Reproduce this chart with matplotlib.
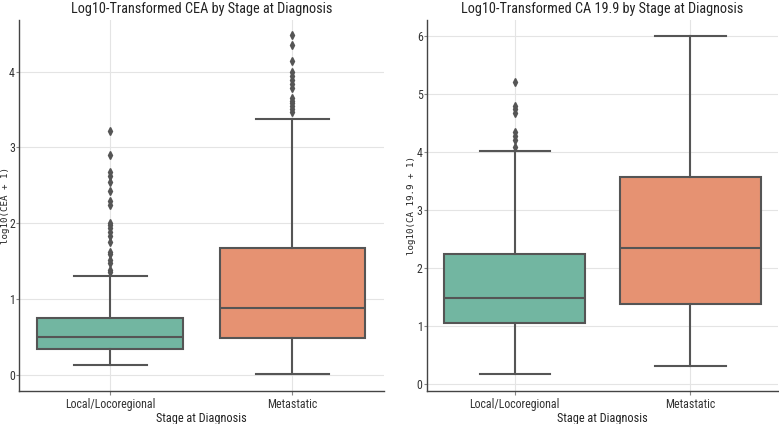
import matplotlib
matplotlib.use("Agg")
import matplotlib.pyplot as plt
from matplotlib import font_manager
from matplotlib.font_manager import FontProperties

# ---- pick a condensed sans font if one is installed ----
def pick_condensed():
    best = None
    best_score = -1
    pref = ["Noto Sans", "Open Sans", "Roboto", "DejaVu Sans", "Liberation Sans", "Lato", "Inter"]
    for f in font_manager.fontManager.ttflist:
        nm = f.name
        st = str(f.stretch)
        is_cond = ("ondensed" in st) or ("ondensed" in nm) or ("Narrow" in nm) \
            or ("ondensed" in f.fname) or ("Narrow" in f.fname)
        if not is_cond:
            continue
        if f.style != "normal":
            continue
        w = f.weight if isinstance(f.weight, int) else 400
        if w not in (400, "normal"):
            continue
        fn = f.fname.lower()
        if "extra" in fn or "ultra" in fn or "semi" in fn or "mono" in fn:
            score = 1
        else:
            score = 3
        for i, p in enumerate(pref):
            if nm.startswith(p):
                score += (len(pref) - i)
                break
        if score > best_score:
            best_score = score
            best = f.fname
    return best

_cf = pick_condensed()

def fp(size):
    if _cf:
        return FontProperties(fname=_cf, size=size)
    return FontProperties(family="DejaVu Sans", size=size * 0.85)

categories = ["Local/Locoregional", "Metastatic"]
colors = ["#72b6a1", "#e69272"]

# CEA (log10(CEA+1))
cea_whislo = [0.13, 0.01]
cea_q1 = [0.34, 0.49]
cea_med = [0.50, 0.88]
cea_q3 = [0.75, 1.67]
cea_whishi = [1.30, 3.38]
cea_fliers = [
    [1.36, 1.39, 1.47, 1.51, 1.59, 1.62, 1.75, 1.83, 1.89, 1.94, 1.98, 2.00,
     2.24, 2.29, 2.42, 2.55, 2.62, 2.67, 2.90, 3.21],
    [3.47, 3.51, 3.54, 3.58, 3.61, 3.65, 3.78, 3.83, 3.89, 3.94, 3.99, 4.14, 4.35, 4.48],
]

# CA 19.9 (log10(CA19.9+1))
ca_whislo = [0.18, 0.31]
ca_q1 = [1.06, 1.39]
ca_med = [1.49, 2.35]
ca_q3 = [2.25, 3.58]
ca_whishi = [4.02, 6.00]
ca_fliers = [
    [4.09, 4.21, 4.28, 4.35, 4.67, 4.74, 4.79, 5.21],
    [],
]

fig = plt.figure(figsize=(7.79, 4.24), dpi=100)
ax1 = fig.add_axes([0.0244, 0.078, 0.468, 0.875])
ax2 = fig.add_axes([0.548, 0.078, 0.451, 0.875])

edge = "#555555"

def draw(ax, lo, q1, med, q3, hi, fl, ylim, yticks, title, ylabel, ylab_x):
    stats = []
    for i in range(len(categories)):
        stats.append(dict(whislo=lo[i], q1=q1[i], med=med[i], q3=q3[i],
                          whishi=hi[i], fliers=fl[i], label=categories[i]))
    bp = ax.bxp(stats, positions=range(len(categories)), widths=0.8,
                patch_artist=True, showfliers=True,
                boxprops=dict(edgecolor=edge, linewidth=1.5),
                medianprops=dict(color=edge, linewidth=1.5),
                whiskerprops=dict(color=edge, linewidth=1.5),
                capprops=dict(color=edge, linewidth=1.5),
                flierprops=dict(marker="d", markerfacecolor=edge,
                                markeredgecolor=edge, markersize=4))
    for patch, c in zip(bp["boxes"], colors):
        patch.set_facecolor(c)
    for i, cap in enumerate(bp["caps"]):
        pos = i // 2
        cap.set_xdata([pos - 0.2, pos + 0.2])
    ax.set_xlim(-0.5, 1.5)
    ax.set_ylim(*ylim)
    ax.set_yticks(yticks)
    ax.set_xticks(range(len(categories)))
    ax.set_xticklabels(categories)
    for t in ax.get_xticklabels() + ax.get_yticklabels():
        t.set_fontproperties(fp(8.6))
    ax.grid(True, color="#e4e4e4", linewidth=0.8)
    ax.set_axisbelow(True)
    for s in ["top", "right"]:
        ax.spines[s].set_visible(False)
    for s in ["left", "bottom"]:
        ax.spines[s].set_color("#444444")
        ax.spines[s].set_linewidth(1.0)
    ax.tick_params(axis="x", length=3, color="#888888", labelcolor="#333333", pad=2)
    ax.tick_params(axis="y", length=2, color="#888888", labelcolor="#333333", pad=1)
    ax.set_title(title, fontproperties=fp(10.3), color="#222222", pad=5)
    ax.set_xlabel("Stage at Diagnosis", fontproperties=fp(8.8), color="#222222", labelpad=1)
    ax.set_ylabel(ylabel, family="DejaVu Sans Mono", fontsize=6.6, color="#222222")
    ax.yaxis.set_label_coords(ylab_x, 0.5)

draw(ax1, cea_whislo, cea_q1, cea_med, cea_q3, cea_whishi, cea_fliers,
     (-0.21, 4.68), [0, 1, 2, 3, 4], "Log10-Transformed CEA by Stage at Diagnosis",
     "log10(CEA + 1)", -0.026)
draw(ax2, ca_whislo, ca_q1, ca_med, ca_q3, ca_whishi, ca_fliers,
     (-0.115, 6.28), [0, 1, 2, 3, 4, 5, 6], "Log10-Transformed CA 19.9 by Stage at Diagnosis",
     "log10(CA 19.9 + 1)", -0.032)

fig.savefig("out.png", dpi=100)
